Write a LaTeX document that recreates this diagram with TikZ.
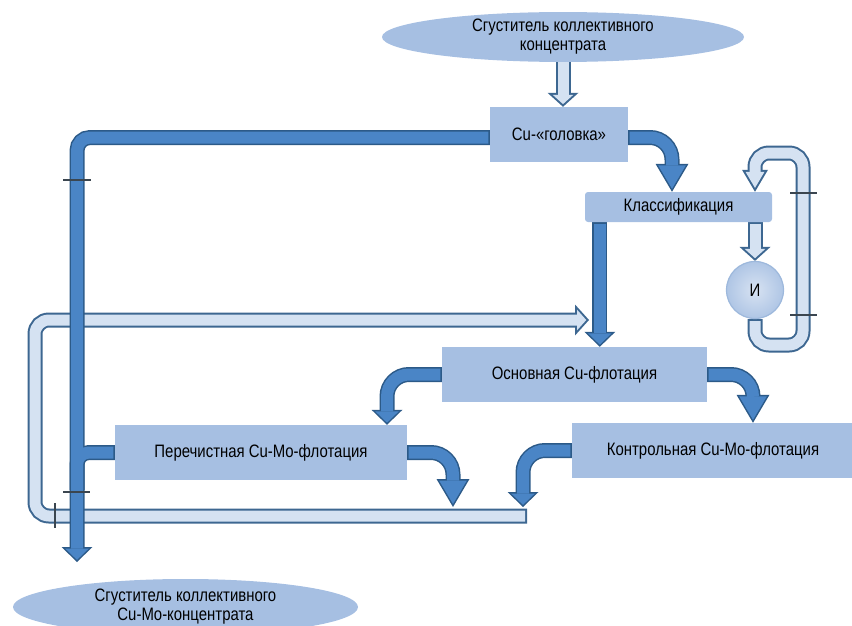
\documentclass[tikz,border=0pt]{standalone}
\usepackage{fontspec}
\setmainfont{Liberation Sans}[FakeStretch=0.83]
\usetikzlibrary{arrows.meta,shapes.geometric,backgrounds,calc}

\definecolor{boxfill}{HTML}{A6BFE2}
\definecolor{pipefill}{HTML}{4A85C6}
\definecolor{pipeedge}{HTML}{2C5A88}
\definecolor{tubefill}{HTML}{D5E2F2}
\definecolor{tubeedge}{HTML}{3D6791}
\definecolor{tickgray}{HTML}{3B4650}
\definecolor{millrim}{HTML}{9DB8DC}

\tikzset{
  stage/.style={fill=boxfill, inner sep=0pt, font=\fontsize{18}{20}\selectfont},
  thickener/.style={ellipse, fill=boxfill, inner sep=0pt, align=center,
    font=\fontsize{18}{19}\selectfont},
  darkedge/.style={draw=pipeedge, line width=15pt},
  darkcore/.style={draw=pipefill, line width=12pt, shorten <=1.5pt},
  lightedge/.style={draw=tubeedge, line width=15pt},
  lightcore/.style={draw=tubefill, line width=11pt, shorten <=2pt},
  longE/.style={-{Triangle[width=33pt,length=28pt,line width=0pt]}},
  longC/.style={-{Triangle[width=27.7pt,length=23.5pt,line width=0pt]}, shorten >=3pt},
  shortE/.style={-{Triangle[width=31pt,length=15pt,line width=0pt]}},
  shortC/.style={-{Triangle[width=23.6pt,length=11.4pt,line width=0pt]}, shorten >=2.1pt},
  openE/.style={-{Triangle[width=31pt,length=14pt,line width=0pt]}},
  openC/.style={-{Triangle[width=20.6pt,length=9.3pt,line width=0pt]}, shorten >=2.7pt},
  loopE/.style={-{Triangle[width=26pt,length=22pt,line width=0pt]}},
  loopC/.style={-{Triangle[width=19pt,length=16.1pt,line width=0pt]}, shorten >=3.9pt},
  tick/.style={draw=tickgray, line width=1.5pt},
}

% #1 common options, #2 outline pass, #3 inner pass, #4 path
\newcommand{\flowpipe}[4]{\draw[#2,#1] #4; \draw[#3,#1] #4;}

\begin{document}
\begin{tikzpicture}[x=1pt, y=-1pt]
\clip (0,0) rectangle (852,626);

% stages
\node[thickener, minimum width=362, minimum height=44] (feed) at (563,37)
  {Сгуститель коллективного\\концентрата};
\node[stage, minimum width=138, minimum height=55] (head) at (559,134.5) {Cu-«головка»};
\node[stage, rounded corners=3pt, minimum width=187, minimum height=30] (classify)
  at (678.5,207) {Классификация};
\node[circle, minimum size=57, inner sep=0pt, draw=millrim, line width=1.2pt,
  inner color=boxfill!45, outer color=boxfill!90, font=\fontsize{18}{20}\selectfont]
  (mill) at (755,290) {И};
\node[stage, minimum width=265, minimum height=55] (rougher) at (574.5,374.5)
  {Основная Cu-флотация};
\node[stage, minimum width=292, minimum height=55] (cleaner) at (261,452.5)
  {Перечистная Cu-Mo-флотация};
\node[stage, minimum width=282, minimum height=55] (scav) at (713,450.5)
  {Контрольная Cu-Mo-флотация};
\node[thickener, minimum width=345, minimum height=56] (product) at (185.5,607)
  {Сгуститель коллективного\\Cu-Mo-концентрата};

% free ends and bends
\coordinate (headout) at ($(head.west)+(0,3)$);
\coordinate (headover) at ($(head.east)+(0,3)$);
\coordinate (clsout) at ($(classify.south west)+(15,0)$);
\coordinate (trunkend) at (77,562);
\coordinate (trunkjoin) at (77,490);
\coordinate (loopbr) at (803,345);
\coordinate (looptr) at (803,153);
\coordinate (barend) at (527,516);
\coordinate (barturn) at (35,320);
\coordinate (retin) at (589,320);
\coordinate (dropl) at (453,507);
\coordinate (dropr) at (523,507);

\begin{pgfonlayer}{background}
  % light return lines
  \flowpipe{rounded corners=14pt}{lightedge,openE}{lightcore,openC}
    {(barend) -| (barturn) -- (retin)}
  \flowpipe{}{lightedge,openE}{lightcore,openC}{(feed.center) -- (feed.center |- head.north)}
  \flowpipe{}{lightedge,openE}{lightcore,openC}{(mill.north |- classify.south) -- (mill.north)}
  \flowpipe{rounded corners=14pt}{lightedge,loopE}{lightcore,loopC}
    {(mill.south) |- (loopbr) -- (looptr) -| (mill.north |- classify.north)}

  % concentrate trunk with cleaner branch
  \draw[darkedge, shortE, rounded corners=13pt] (headout) -| (trunkend);
  \draw[darkedge, rounded corners=12pt] (cleaner.west) -| (trunkjoin);
  \draw[darkcore, shortC, rounded corners=13pt] (headout) -| (trunkend);
  \draw[darkcore, rounded corners=12pt] (cleaner.west) -| (trunkjoin);

  % flows between stages
  \flowpipe{rounded corners=22pt}{darkedge,longE}{darkcore,longC}
    {(headover) -| ([xshift=-6.5pt]classify.north)}
  \flowpipe{}{darkedge,shortE}{darkcore,shortC}{(clsout) -- (clsout |- rougher.north)}
  \flowpipe{rounded corners=22pt}{darkedge,longE}{darkcore,longC}
    {(rougher.east) -| ([xshift=40pt]scav.north)}
  \flowpipe{rounded corners=22pt}{darkedge,shortE}{darkcore,shortC}
    {(rougher.west) -| ([xshift=126pt]cleaner.north)}
  \flowpipe{rounded corners=22pt}{darkedge,longE}{darkcore,longC}
    {(cleaner.east) -| (dropl)}
  \flowpipe{rounded corners=22pt}{darkedge,shortE}{darkcore,shortC}
    {(scav.west) -| (dropr)}

  % flange marks
  \draw[tick] (63,180) -- (91,180);
  \draw[tick] (63,492) -- (90,492);
  \draw[tick] (55,503) -- (55,528);
  \draw[tick] (790,193) -- (817,193);
  \draw[tick] (790,315) -- (817,315);
\end{pgfonlayer}
\end{tikzpicture}
\end{document}
